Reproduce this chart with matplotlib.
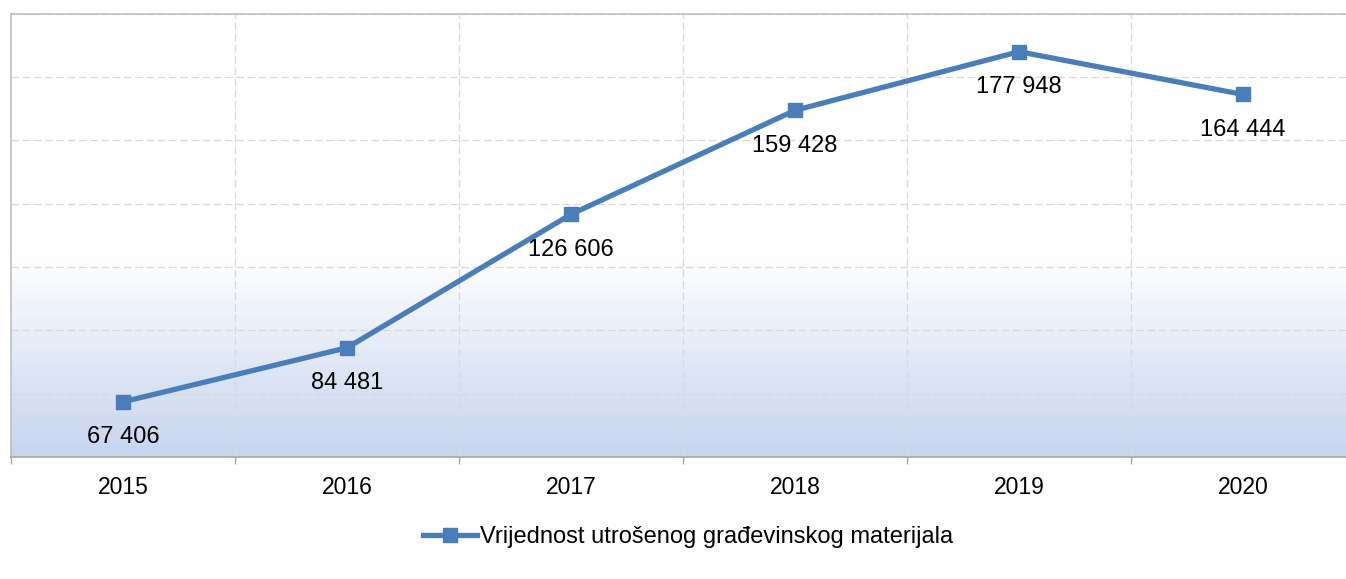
import numpy as np
import matplotlib.pyplot as plt
from matplotlib.colors import LinearSegmentedColormap

plt.rcParams['font.family'] = ['Liberation Sans', 'DejaVu Sans']

# podaci
godine = ['2015', '2016', '2017', '2018', '2019', '2020']
vrijednosti = [67406, 84481, 126606, 159428, 177948, 164444]
naziv_serije = 'Vrijednost utrošenog građevinskog materijala'

plava = '#4a7ebb'
siva = '#bfbfbf'

fig = plt.figure(figsize=(13.46, 5.79), dpi=100)
ax = fig.add_axes([11 / 1346, 122 / 579, 1344 / 1346, 443.5 / 579])

x = np.arange(len(godine))
ax.set_xlim(-0.5, len(godine) - 0.5)
ax.set_ylim(50000, 190000)

# gradijent pozadine (bijelo -> svijetloplavo prema dnu)
cmap = LinearSegmentedColormap.from_list('grad', ['#c6d4ee', '#ffffff'])
g = np.clip(np.linspace(0, 1, 256) / 0.46, 0, 1).reshape(-1, 1)
ax.imshow(g, cmap=cmap, extent=[0, 1, 0, 1], transform=ax.transAxes,
          aspect='auto', origin='lower', zorder=0)

# mreža
for yv in np.arange(70000, 190001, 20000):
    ax.axhline(yv, color='#d9d9d9', lw=0.9, ls=(0, (6, 3)), zorder=1)
for xv in np.arange(0.5, len(godine) - 0.5, 1):
    ax.axvline(xv, color='#d9d9d9', lw=0.9, ls=(0, (6, 3)), zorder=1)

ax.plot(x, vrijednosti, color=plava, lw=3.8, marker='s', markersize=10,
        label=naziv_serije, zorder=3)

for xi, v in zip(x, vrijednosti):
    txt = f'{v:,}'.replace(',', ' ')
    ax.annotate(txt, (xi, v), xytext=(0, -25.5), textcoords='offset points',
                ha='center', va='center', fontsize=17, color='black', zorder=4)

ax.set_yticks([])
ax.set_xticks(x)
ax.set_xticklabels(godine, fontsize=16.5)
ax.set_xticks(np.arange(-0.5, len(godine), 1), minor=True)
ax.tick_params(axis='x', which='major', length=0, pad=14)
ax.tick_params(axis='x', which='minor', length=5, color='#a6a6a6', width=1)

for s in ['left', 'top', 'bottom']:
    ax.spines[s].set_color(siva)
    ax.spines[s].set_linewidth(1.2)
ax.spines['bottom'].set_color('#a6a6a6')
ax.spines['right'].set_visible(False)

fig.legend(loc='center', bbox_to_anchor=(688 / 1346, 1 - 537 / 579),
           frameon=False, fontsize=17, handlelength=2.3, handletextpad=0.15)

fig.savefig('out.png', dpi=100)
